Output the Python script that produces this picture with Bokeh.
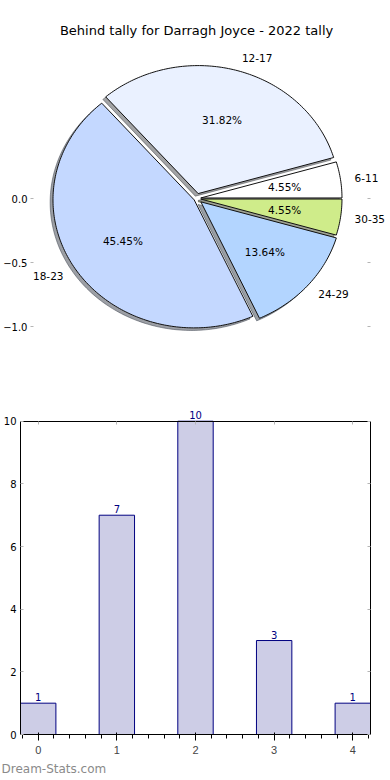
import numpy as np
from bokeh.plotting import figure
from bokeh.models import (Range1d, LinearAxis, FixedTicker, Label, LabelSet, ColumnDataSource,
                          Title, CustomJSTickFormatter)
from bokeh.layouts import column
from bokeh.embed import file_html
from bokeh.resources import INLINE
from bokeh.core.properties import value

# ---------------- data ----------------
title_text = "Behind tally for Darragh Joyce - 2022 tally"
categories = ["6-11", "12-17", "18-23", "24-29", "30-35"]
counts = [1, 7, 10, 3, 1]
bar_positions = [0, 1, 2, 3, 4]
pie_yticks = [0.0, -0.5, -1.0]
pie_ytick_labels = ["0.0", "\u22120.5", "\u22121.0"]
bar_yticks = [0, 2, 4, 6, 8, 10]
watermark = "Dream-Stats.com"

# ---------------- style ----------------
slice_colors = ["#ffffff", "#eaf1ff", "#c4d8ff", "#b3d5ff", "#cfec8a"]
explode = [0.03, 0.04, 0.02, 0.04, 0.03]
FONT = "DejaVu Sans"
TICK_COLOR = "#b5b5b5"
W, H1, H2 = 390, 385, 393
PX_X, PX_Y = 142.0, 128.0      # pixels per data unit in the pie axes
CX, CY = 195.0, 198.0          # pixel position of pie origin in the pie canvas
PIE_LEFT = 28                  # width of the pie's left axis panel


def blank_axis(ticks, **kw):
    """An axis that only draws small inward tick marks."""
    return LinearAxis(ticker=FixedTicker(ticks=ticks),
                      formatter=CustomJSTickFormatter(code="return ''"),
                      major_label_standoff=0, major_tick_in=3, major_tick_out=0,
                      minor_tick_in=0, minor_tick_out=0, minor_tick_line_color=None,
                      major_tick_line_color=TICK_COLOR, **kw)


# ---------------- pie ----------------
pie = figure(width=W, height=H1, output_backend="svg", toolbar_location=None, tools="",
             x_range=Range1d(-(CX - PIE_LEFT) / PX_X, (W - CX) / PX_X),
             y_range=Range1d(-(H1 - CY) / PX_Y, CY / PX_Y),
             x_axis_location=None, y_axis_location="left",
             min_border_left=PIE_LEFT, min_border_right=0, min_border_top=0, min_border_bottom=0)
pie.frame_align = False
pie.grid.visible = False
pie.outline_line_color = None

total = float(sum(counts))
fracs = [c / total for c in counts]
ends = np.cumsum(fracs) * 2 * np.pi
starts = np.concatenate([[0.0], ends[:-1]])

xs, ys, sxs, sys_ = [], [], [], []
lab_x, lab_y, lab_align, pct_x, pct_y, pct_text = [], [], [], [], [], []
shadow_colors = []
for s, e, ex, f, col in zip(starts, ends, explode, fracs, slice_colors):
    mid = 0.5 * (s + e)
    ox, oy = ex * np.cos(mid), ex * np.sin(mid)
    t = np.linspace(s, e, int(np.degrees(e - s)) + 3)
    px = np.concatenate([[ox], ox + np.cos(t), [ox]])
    py = np.concatenate([[oy], oy + np.sin(t), [oy]])
    xs.append(px); ys.append(py)
    sxs.append(px - 0.02); sys_.append(py - 0.02)
    r, g, b = int(col[1:3], 16), int(col[3:5], 16), int(col[5:7], 16)
    shadow_colors.append("#%02x%02x%02x" % (int(r * 0.3), int(g * 0.3), int(b * 0.3)))
    lx, ly = ox + 1.1 * np.cos(mid), oy + 1.1 * np.sin(mid)
    lab_x.append(lx); lab_y.append(ly)
    lab_align.append("left" if lx > 0 else "right")
    pct_x.append(ox + 0.6 * np.cos(mid)); pct_y.append(oy + 0.6 * np.sin(mid))
    pct_text.append("%.2f%%" % (100 * f))

pie.patches(sxs, sys_, fill_color=shadow_colors, fill_alpha=0.5,
            line_color=shadow_colors, line_alpha=0.5, line_width=1)
pie.patches(xs, ys, fill_color=slice_colors, line_color="#111111", line_width=1)

lab_src = ColumnDataSource(dict(x=lab_x, y=lab_y, text=categories, align=lab_align))
pie.text(x="x", y="y", text="text", source=lab_src, text_align="align",
         text_baseline="middle", text_font=value(FONT), text_font_size="10.5px",
         text_color="black")
pct_src = ColumnDataSource(dict(x=pct_x, y=pct_y, text=pct_text))
pie.text(x="x", y="y", text="text", source=pct_src, text_align="center",
         text_baseline="middle", text_font=value(FONT), text_font_size="10.5px",
         text_color="black")

pie.add_layout(Label(x=0, y=(CY - 30) / PX_Y, text=title_text, text_align="center",
                     text_baseline="middle", text_font=FONT, text_font_size="13px",
                     text_color="black"))

yax = pie.yaxis[0]
yax.ticker = FixedTicker(ticks=pie_yticks)
yax.major_label_overrides = {k: v for k, v in zip(pie_yticks, pie_ytick_labels)}
yax.axis_line_color = None
yax.major_tick_in = 3
yax.major_tick_out = 0
yax.minor_tick_in = 0
yax.minor_tick_out = 0
yax.minor_tick_line_color = None
yax.major_tick_line_color = TICK_COLOR
yax.major_label_standoff = 3
yax.major_label_text_font = FONT
yax.major_label_text_font_size = "10px"
yax.major_label_text_color = "black"

pie.add_layout(blank_axis(pie_yticks, fixed_location=(370 - CX) / PX_X,
                          axis_line_color=None), "right")

# ---------------- bar ----------------
BAR_TOP = 10
PAD_PX = 15
FRAME_H = H2 - 21 - 38
bar = figure(width=W, height=H2, output_backend="svg", toolbar_location=None, tools="",
             x_range=Range1d(-0.225, 4.225),
             y_range=Range1d(0, BAR_TOP * FRAME_H / (FRAME_H - PAD_PX)),
             min_border_left=19, min_border_right=20, min_border_top=21, min_border_bottom=38)
bar.frame_align = False
bar.grid.visible = False
bar.outline_line_color = None

bar.vbar(x=bar_positions, top=counts, bottom=0, width=0.45,
         fill_color="#cdcde6", line_color="#000080", line_width=1)
bar_src = ColumnDataSource(dict(x=bar_positions, y=counts, text=[str(c) for c in counts]))
bar.add_layout(LabelSet(x="x", y="y", text="text", source=bar_src, text_align="center",
                        text_baseline="bottom", y_offset=2, text_font=value(FONT),
                        text_font_size="10px", text_color="#000080"))

top_ax = blank_axis(bar_positions, fixed_location=BAR_TOP,
                    axis_line_color="black", axis_line_width=1)
bar.add_layout(top_ax, "above")
rt_ax = blank_axis(bar_yticks, bounds=(0, BAR_TOP), axis_line_color="black", axis_line_width=1)
bar.add_layout(rt_ax, "right")

bar.xaxis[0].ticker = FixedTicker(ticks=bar_positions)
bar.yaxis[0].ticker = FixedTicker(ticks=bar_yticks)
bar.yaxis[0].bounds = (0, BAR_TOP)
for ax in [bar.xaxis[0], bar.yaxis[0]]:
    ax.axis_line_color = "black"
    ax.axis_line_width = 1
    ax.major_tick_in = 3
    ax.major_tick_out = 0
    ax.minor_tick_in = 0
    ax.minor_tick_out = 0
    ax.minor_tick_line_color = None
    ax.major_tick_line_color = TICK_COLOR
    ax.major_label_text_font = FONT
    ax.major_label_text_font_size = "10px"
    ax.major_label_text_color = "black"
    ax.major_label_standoff = 4

bar.add_layout(Title(text=watermark, align="left", offset=-19, standoff=6,
                     text_font=FONT, text_font_size="12px", text_font_style="normal",
                     text_color="#8a8a8a"), "below")

layout = column(pie, bar, spacing=0)
open("out.html", "w").write(file_html(layout, INLINE))
